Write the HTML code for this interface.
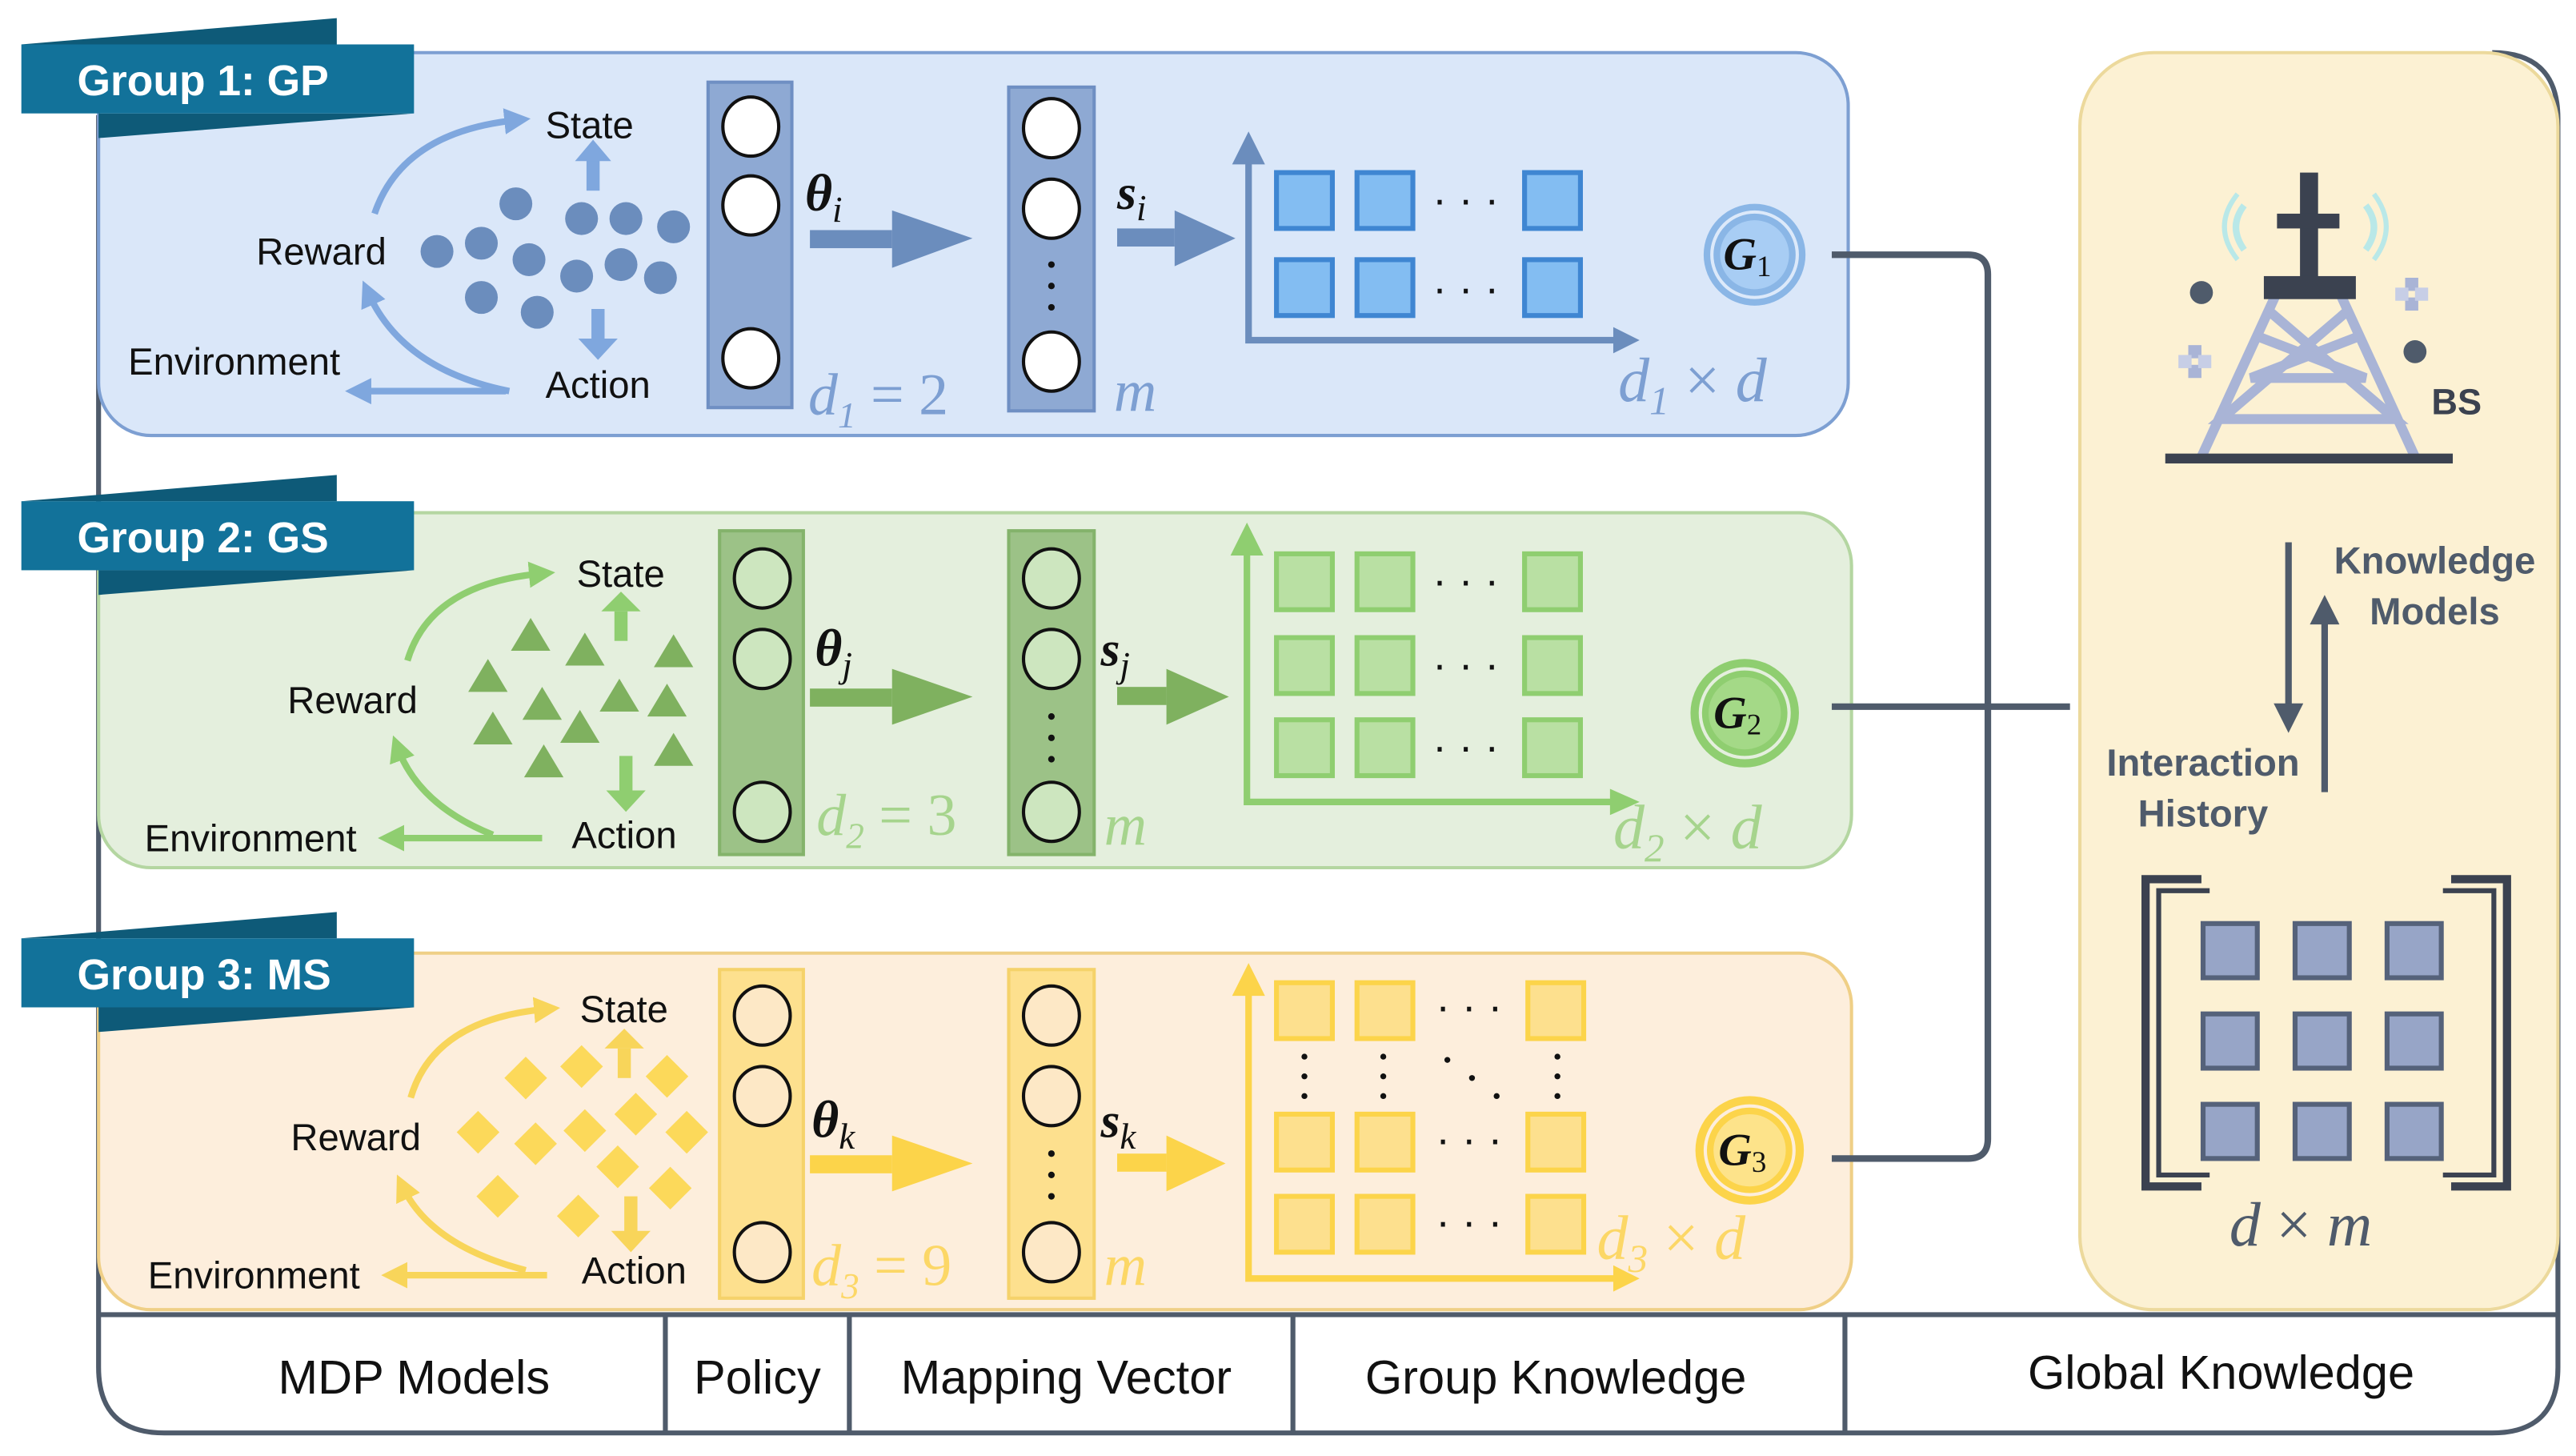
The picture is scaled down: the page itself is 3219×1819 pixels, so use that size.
<!DOCTYPE html>
<html><head><meta charset="utf-8"><style>
html,body{margin:0;padding:0;background:#fff;}
svg{display:block;}
text{font-family:"Liberation Sans",sans-serif;}
.m{font-family:"Liberation Serif",serif;font-style:italic;}
</style></head><body>
<svg width="3219" height="1819" viewBox="0 0 1568 886" xmlns="http://www.w3.org/2000/svg">
<defs>
<marker id="ab" viewBox="0 0 10 10" refX="5" refY="5" markerWidth="4" markerHeight="4" orient="auto"><path d="M0,0L10,5L0,10z" fill="#7fa7de"/></marker>
<marker id="ag" viewBox="0 0 10 10" refX="5" refY="5" markerWidth="4" markerHeight="4" orient="auto"><path d="M0,0L10,5L0,10z" fill="#8fce70"/></marker>
<marker id="ay" viewBox="0 0 10 10" refX="5" refY="5" markerWidth="4" markerHeight="4" orient="auto"><path d="M0,0L10,5L0,10z" fill="#f8d55a"/></marker>
</defs>
<path d="M60,70 L60,832 Q60,872 100,872 L1517,872 Q1557,872 1557,832 L1557,72 Q1557,32 1517,32" fill="none" stroke="#4f5b6b" stroke-width="3"/>
<line x1="60" y1="800" x2="1557" y2="800" stroke="#4f5b6b" stroke-width="3"/>
<g stroke="#4f5b6b" stroke-width="3"><line x1="405" y1="800" x2="405" y2="872"/><line x1="517" y1="800" x2="517" y2="872"/><line x1="787" y1="800" x2="787" y2="872"/><line x1="1123" y1="800" x2="1123" y2="872"/></g>
<g font-size="29" fill="#111" text-anchor="middle"><text x="252" y="848">MDP Models</text><text x="461" y="848">Policy</text><text x="649" y="848">Mapping Vector</text><text x="947" y="848">Group Knowledge</text><text x="1352" y="845">Global Knowledge</text></g>

<rect x="1266" y="32" width="291" height="765" rx="45" fill="#fcf1d3" stroke="#ecd99c" stroke-width="2"/>

<rect x="60" y="32" width="1065" height="233" rx="32" fill="#dae7f9" stroke="#7d9fd2" stroke-width="2"/>
<rect x="60" y="312" width="1067" height="216" rx="32" fill="#e4efdd" stroke="#b4d6a1" stroke-width="2"/>
<rect x="60" y="580" width="1067" height="217" rx="32" fill="#fdeedc" stroke="#efcf86" stroke-width="2"/>

<g>
<polygon points="13,27 205,11 205,27" fill="#0e5a78"/><polygon points="60,69 252,69 60,84" fill="#0e5a78"/><rect x="13" y="27" width="239" height="42" fill="#12729a"/>
<text x="47" y="58" font-size="26" font-weight="bold" fill="#fff">Group 1: GP</text>
</g>
<g transform="translate(0,278)">
<polygon points="13,27 205,11 205,27" fill="#0e5a78"/><polygon points="60,69 252,69 60,84" fill="#0e5a78"/><rect x="13" y="27" width="239" height="42" fill="#12729a"/>
<text x="47" y="58" font-size="26" font-weight="bold" fill="#fff">Group 2: GS</text>
</g>
<g transform="translate(0,544)">
<polygon points="13,27 205,11 205,27" fill="#0e5a78"/><polygon points="60,69 252,69 60,84" fill="#0e5a78"/><rect x="13" y="27" width="239" height="42" fill="#12729a"/>
<text x="47" y="58" font-size="26" font-weight="bold" fill="#fff">Group 3: MS</text>
</g>

<!-- Group 1 -->
<g font-size="23" fill="#111">
<text x="332" y="84">State</text><text x="156" y="161">Reward</text><text x="78" y="228">Environment</text><text x="332" y="242">Action</text>
</g>
<g fill="none" stroke="#7fa7de" stroke-width="4">
<path d="M228,130 Q245,80 315,73" marker-end="url(#ab)"/>
<path d="M310,238 Q245,225 224,178" marker-end="url(#ab)"/>
<path d="M308,238 L218,238" marker-end="url(#ab)"/>
</g>
<rect x="357" y="96" width="8" height="20" fill="#7fa7de"/><polygon points="350,98 361,85 372,98" fill="#7fa7de"/>
<rect x="360" y="188" width="8" height="20" fill="#7fa7de"/><polygon points="352,206 364,219 376,206" fill="#7fa7de"/>
<g fill="#6b8dbd">
<circle cx="314" cy="124" r="10"/><circle cx="354" cy="133" r="10"/><circle cx="381" cy="133" r="10"/><circle cx="410" cy="138" r="10"/>
<circle cx="266" cy="153" r="10"/><circle cx="293" cy="148" r="10"/><circle cx="322" cy="158" r="10"/><circle cx="351" cy="168" r="10"/><circle cx="378" cy="161" r="10"/><circle cx="402" cy="169" r="10"/>
<circle cx="293" cy="181" r="10"/><circle cx="327" cy="190" r="10"/>
</g>
<rect x="431" y="50" width="51" height="198" fill="#8ea9d3" stroke="#6f8fc3" stroke-width="2"/>
<g fill="#fff" stroke="#111" stroke-width="2"><ellipse cx="457" cy="77" rx="17" ry="18"/><ellipse cx="457" cy="125" rx="17" ry="18"/><ellipse cx="457" cy="218" rx="17" ry="18"/></g>
<rect x="614" y="53" width="52" height="197" fill="#8ea9d3" stroke="#6f8fc3" stroke-width="2"/>
<g fill="#fff" stroke="#111" stroke-width="2"><ellipse cx="640" cy="78" rx="17" ry="18"/><ellipse cx="640" cy="127" rx="17" ry="18"/><ellipse cx="640" cy="220" rx="17" ry="18"/></g>
<g fill="#111"><circle cx="640" cy="161" r="2"/><circle cx="640" cy="174" r="2"/><circle cx="640" cy="187" r="2"/></g>
<rect x="493" y="140" width="50" height="11" fill="#6b8dbd"/><polygon points="543,128 592,145 543,163" fill="#6b8dbd"/>
<rect x="680" y="139" width="35" height="11" fill="#6b8dbd"/><polygon points="715,128 752,145 715,162" fill="#6b8dbd"/>
<text x="490" y="128" font-size="32" font-weight="bold" class="m" fill="#111">θ<tspan font-size="22" dy="7" font-weight="normal">i</tspan></text>
<text x="680" y="127" font-size="30" font-weight="bold" class="m" fill="#111">s<tspan font-size="22" dy="7" font-weight="normal">i</tspan></text>
<text x="492" y="252" font-size="36" class="m" fill="#7d9fd2">d<tspan font-size="22" dy="8">1</tspan><tspan dy="-8" font-style="normal"> = 2</tspan></text>
<text x="678" y="250" font-size="36" class="m" fill="#7d9fd2">m</text>
<path d="M760,88 L760,207 L985,207" fill="none" stroke="#6b8dbd" stroke-width="4"/>
<polygon points="750,100 760,80 770,100" fill="#6b8dbd"/><polygon points="982,199 998,207 982,215" fill="#6b8dbd"/>
<g fill="#83bdf2" stroke="#3f86d2" stroke-width="3">
<rect x="777" y="105" width="34" height="34"/><rect x="826" y="105" width="34" height="34"/><rect x="928" y="105" width="34" height="34"/>
<rect x="777" y="158" width="34" height="34"/><rect x="826" y="158" width="34" height="34"/><rect x="928" y="158" width="34" height="34"/>
</g>
<text x="872" y="130" font-size="26" fill="#111">· · ·</text><text x="872" y="184" font-size="26" fill="#111">· · ·</text>
<text x="985" y="244" font-size="38" class="m" fill="#7d9fd2">d<tspan font-size="24" dy="8">1</tspan><tspan dy="-8" font-style="normal"> × </tspan>d</text>
<circle cx="1068" cy="155" r="31" fill="#8ab6e6"/><circle cx="1068" cy="155" r="26" fill="none" stroke="#dce9fa" stroke-width="2"/><circle cx="1068" cy="155" r="21" fill="#a8cdf4"/>
<text x="1049" y="164" font-size="28" font-weight="bold" class="m" fill="#111">G<tspan font-size="18" dy="4" font-weight="normal" font-style="normal">1</tspan></text>

<!-- Group 2 -->
<g font-size="23" fill="#111">
<text x="351" y="357">State</text><text x="175" y="434">Reward</text><text x="88" y="518">Environment</text><text x="348" y="516">Action</text>
</g>
<g fill="none" stroke="#8fce70" stroke-width="4">
<path d="M248,402 Q262,355 330,349" marker-end="url(#ag)"/>
<path d="M300,508 Q255,490 242,455" marker-end="url(#ag)"/>
<path d="M330,510 L238,510" marker-end="url(#ag)"/>
</g>
<rect x="374" y="372" width="8" height="18" fill="#8fce70"/><polygon points="366,372 378,360 390,372" fill="#8fce70"/>
<rect x="377" y="460" width="8" height="22" fill="#8fce70"/><polygon points="369,481 381,494 393,481" fill="#8fce70"/>
<g fill="#7fb15f">
<polygon points="323,376 311,396 335,396"/><polygon points="356,385 344,405 368,405"/><polygon points="410,386 398,406 422,406"/>
<polygon points="297,401 285,421 309,421"/><polygon points="330,418 318,438 342,438"/><polygon points="377,413 365,433 389,433"/><polygon points="406,416 394,436 418,436"/>
<polygon points="300,433 288,453 312,453"/><polygon points="353,432 341,452 365,452"/><polygon points="331,453 319,473 343,473"/><polygon points="410,446 398,466 422,466"/>
</g>
<rect x="438" y="323" width="51" height="197" fill="#9cc287" stroke="#84b36b" stroke-width="2"/>
<g fill="#cde6bf" stroke="#111" stroke-width="2"><ellipse cx="464" cy="352" rx="17" ry="18"/><ellipse cx="464" cy="401" rx="17" ry="18"/><ellipse cx="464" cy="494" rx="17" ry="18"/></g>
<rect x="614" y="323" width="52" height="197" fill="#9cc287" stroke="#84b36b" stroke-width="2"/>
<g fill="#cde6bf" stroke="#111" stroke-width="2"><ellipse cx="640" cy="352" rx="17" ry="18"/><ellipse cx="640" cy="401" rx="17" ry="18"/><ellipse cx="640" cy="494" rx="17" ry="18"/></g>
<g fill="#111"><circle cx="640" cy="436" r="2"/><circle cx="640" cy="449" r="2"/><circle cx="640" cy="462" r="2"/></g>
<rect x="493" y="419" width="50" height="11" fill="#7fb15f"/><polygon points="543,407 592,424 543,441" fill="#7fb15f"/>
<rect x="680" y="418" width="30" height="11" fill="#7fb15f"/><polygon points="710,407 748,424 710,441" fill="#7fb15f"/>
<text x="496" y="405" font-size="32" font-weight="bold" class="m" fill="#111">θ<tspan font-size="22" dy="7" font-weight="normal">j</tspan></text>
<text x="670" y="405" font-size="30" font-weight="bold" class="m" fill="#111">s<tspan font-size="22" dy="7" font-weight="normal">j</tspan></text>
<text x="497" y="508" font-size="36" class="m" fill="#a6d48d">d<tspan font-size="22" dy="8">2</tspan><tspan dy="-8" font-style="normal"> = 3</tspan></text>
<text x="672" y="514" font-size="36" class="m" fill="#a6d48d">m</text>
<path d="M759,333 L759,488 L985,488" fill="none" stroke="#8fce70" stroke-width="4"/>
<polygon points="749,338 759,318 769,338" fill="#8fce70"/><polygon points="980,480 998,488 980,496" fill="#8fce70"/>
<g fill="#b9e0a3" stroke="#8fce70" stroke-width="3">
<rect x="777" y="337" width="34" height="34"/><rect x="826" y="337" width="34" height="34"/><rect x="928" y="337" width="34" height="34"/>
<rect x="777" y="388" width="34" height="34"/><rect x="826" y="388" width="34" height="34"/><rect x="928" y="388" width="34" height="34"/>
<rect x="777" y="438" width="34" height="34"/><rect x="826" y="438" width="34" height="34"/><rect x="928" y="438" width="34" height="34"/>
</g>
<text x="872" y="362" font-size="26" fill="#111">· · ·</text><text x="872" y="413" font-size="26" fill="#111">· · ·</text><text x="872" y="463" font-size="26" fill="#111">· · ·</text>
<text x="982" y="516" font-size="38" class="m" fill="#a6d48d">d<tspan font-size="24" dy="8">2</tspan><tspan dy="-8" font-style="normal"> × </tspan>d</text>
<circle cx="1062" cy="434" r="33" fill="#8fce70"/><circle cx="1062" cy="434" r="27" fill="none" stroke="#e4efdd" stroke-width="2"/><circle cx="1062" cy="434" r="22" fill="#a4d987"/>
<text x="1043" y="443" font-size="28" font-weight="bold" class="m" fill="#111">G<tspan font-size="18" dy="4" font-weight="normal" font-style="normal">2</tspan></text>

<!-- Group 3 -->
<g font-size="23" fill="#111">
<text x="353" y="622">State</text><text x="177" y="700">Reward</text><text x="90" y="784">Environment</text><text x="354" y="781">Action</text>
</g>
<g fill="none" stroke="#f8d55a" stroke-width="4">
<path d="M250,668 Q264,620 333,614" marker-end="url(#ay)"/>
<path d="M320,773 Q262,758 245,722" marker-end="url(#ay)"/>
<path d="M333,776 L240,776" marker-end="url(#ay)"/>
</g>
<rect x="376" y="638" width="8" height="18" fill="#f8d55a"/><polygon points="368,638 380,626 392,638" fill="#f8d55a"/>
<rect x="380" y="728" width="8" height="22" fill="#f8d55a"/><polygon points="372,749 384,762 396,749" fill="#f8d55a"/>
<g fill="#fcd95a">
<polygon points="320,643 333,656 320,669 307,656"/><polygon points="354,636 367,649 354,662 341,649"/><polygon points="406,642 419,655 406,668 393,655"/>
<polygon points="291,676 304,689 291,702 278,689"/><polygon points="326,683 339,696 326,709 313,696"/><polygon points="356,675 369,688 356,701 343,688"/><polygon points="387,665 400,678 387,691 374,678"/><polygon points="418,676 431,689 418,702 405,689"/>
<polygon points="303,715 316,728 303,741 290,728"/><polygon points="376,697 389,710 376,723 363,710"/><polygon points="408,710 421,723 408,736 395,723"/><polygon points="352,727 365,740 352,753 339,740"/>
</g>
<rect x="438" y="590" width="51" height="200" fill="#fde08e" stroke="#f5d26a" stroke-width="2"/>
<g fill="#fde8c6" stroke="#111" stroke-width="2"><ellipse cx="464" cy="618" rx="17" ry="18"/><ellipse cx="464" cy="667" rx="17" ry="18"/><ellipse cx="464" cy="762" rx="17" ry="18"/></g>
<rect x="614" y="590" width="52" height="200" fill="#fde08e" stroke="#f5d26a" stroke-width="2"/>
<g fill="#fde8c6" stroke="#111" stroke-width="2"><ellipse cx="640" cy="618" rx="17" ry="18"/><ellipse cx="640" cy="667" rx="17" ry="18"/><ellipse cx="640" cy="762" rx="17" ry="18"/></g>
<g fill="#111"><circle cx="640" cy="702" r="2"/><circle cx="640" cy="715" r="2"/><circle cx="640" cy="728" r="2"/></g>
<rect x="493" y="703" width="50" height="11" fill="#fcd44a"/><polygon points="543,691 592,708 543,725" fill="#fcd44a"/>
<rect x="680" y="702" width="30" height="11" fill="#fcd44a"/><polygon points="710,691 746,708 710,725" fill="#fcd44a"/>
<text x="494" y="692" font-size="32" font-weight="bold" class="m" fill="#111">θ<tspan font-size="22" dy="7" font-weight="normal">k</tspan></text>
<text x="670" y="692" font-size="30" font-weight="bold" class="m" fill="#111">s<tspan font-size="22" dy="7" font-weight="normal">k</tspan></text>
<text x="494" y="782" font-size="36" class="m" fill="#fcd766">d<tspan font-size="22" dy="8">3</tspan><tspan dy="-8" font-style="normal"> = 9</tspan></text>
<text x="672" y="782" font-size="36" class="m" fill="#fcd766">m</text>
<path d="M760,600 L760,778 L985,778" fill="none" stroke="#fcd44a" stroke-width="4"/>
<polygon points="750,606 760,586 770,606" fill="#fcd44a"/><polygon points="982,770 998,778 982,786" fill="#fcd44a"/>
<g fill="#fde08e" stroke="#fcd44a" stroke-width="3">
<rect x="777" y="598" width="34" height="34"/><rect x="826" y="598" width="34" height="34"/><rect x="930" y="598" width="34" height="34"/>
<rect x="777" y="678" width="34" height="34"/><rect x="826" y="678" width="34" height="34"/><rect x="930" y="678" width="34" height="34"/>
<rect x="777" y="728" width="34" height="34"/><rect x="826" y="728" width="34" height="34"/><rect x="930" y="728" width="34" height="34"/>
</g>
<text x="874" y="621" font-size="26" fill="#111">· · ·</text><text x="874" y="702" font-size="26" fill="#111">· · ·</text><text x="874" y="752" font-size="26" fill="#111">· · ·</text>
<g fill="#111"><circle cx="794" cy="643" r="1.8"/><circle cx="794" cy="655" r="1.8"/><circle cx="794" cy="667" r="1.8"/><circle cx="842" cy="643" r="1.8"/><circle cx="842" cy="655" r="1.8"/><circle cx="842" cy="667" r="1.8"/><circle cx="948" cy="643" r="1.8"/><circle cx="948" cy="655" r="1.8"/><circle cx="948" cy="667" r="1.8"/><circle cx="881" cy="645" r="1.8"/><circle cx="896" cy="656" r="1.8"/><circle cx="911" cy="667" r="1.8"/></g>
<text x="972" y="766" font-size="38" class="m" fill="#fcd766">d<tspan font-size="24" dy="8">3</tspan><tspan dy="-8" font-style="normal"> × </tspan>d</text>
<circle cx="1065" cy="700" r="33" fill="#fcd44a"/><circle cx="1065" cy="700" r="27" fill="none" stroke="#fdeedc" stroke-width="2"/><circle cx="1065" cy="700" r="22" fill="#fde38a"/>
<text x="1046" y="709" font-size="28" font-weight="bold" class="m" fill="#111">G<tspan font-size="18" dy="4" font-weight="normal" font-style="normal">3</tspan></text>

<g fill="none" stroke="#4f5b6b" stroke-width="4">
<path d="M1115,155 L1198,155 Q1210,155 1210,167 L1210,693 Q1210,705 1198,705 L1115,705"/>
<path d="M1115,430 L1260,430"/>
</g>

<g fill="none" stroke="#b9e8e8" stroke-width="4">
<path d="M1366,125 Q1356,138 1366,152"/><path d="M1362,118 Q1346,138 1362,158" stroke-width="3"/>
<path d="M1440,125 Q1450,138 1440,152"/><path d="M1445,118 Q1460,138 1445,158" stroke-width="3"/>
</g>
<g stroke="#a9b4d6" stroke-width="6" fill="none">
<path d="M1385,180 L1340,278"/><path d="M1425,180 L1470,278"/>
<path d="M1382,190 L1458,255 L1352,255 L1428,190"/><path d="M1375,205 L1440,230 L1370,230 L1435,205"/>
</g>
<rect x="1400" y="105" width="11" height="65" fill="#3b4250"/><rect x="1386" y="130" width="38" height="9" fill="#3b4250"/>
<rect x="1378" y="168" width="56" height="14" fill="#3b4250"/>
<rect x="1318" y="276" width="175" height="6" fill="#3b4250"/>
<circle cx="1340" cy="178" r="7" fill="#4f5b6b"/><circle cx="1470" cy="214" r="7" fill="#4f5b6b"/>
<g fill="#a9b4d6"><rect x="1464" y="169" width="8" height="8"/><rect x="1464" y="181" width="8" height="8"/><rect x="1458" y="175" width="8" height="8" fill="#c7cee6"/><rect x="1470" y="175" width="8" height="8" fill="#c7cee6"/>
<rect x="1332" y="210" width="8" height="8"/><rect x="1332" y="222" width="8" height="8"/><rect x="1326" y="216" width="8" height="8" fill="#c7cee6"/><rect x="1338" y="216" width="8" height="8" fill="#c7cee6"/></g>
<text x="1480" y="252" font-size="22" font-weight="bold" fill="#3b4250">BS</text>

<g stroke="#4f5b6b" stroke-width="4" fill="none">
<line x1="1393" y1="330" x2="1393" y2="432"/><line x1="1415" y1="482" x2="1415" y2="376"/>
</g>
<polygon points="1384,428 1393,446 1402,428" fill="#4f5b6b"/><polygon points="1406,380 1415,362 1424,380" fill="#4f5b6b"/>
<g font-size="23" font-weight="bold" fill="#4f5b6b" text-anchor="middle">
<text x="1482" y="349">Knowledge</text><text x="1482" y="380">Models</text>
<text x="1341" y="472">Interaction</text><text x="1341" y="503">History</text>
</g>

<g fill="none" stroke="#3b4250" stroke-width="5">
<path d="M1340,535 L1306,535 L1306,722 L1340,722"/><path d="M1345,542 L1314,542 L1314,715 L1345,715" stroke-width="3"/>
<path d="M1492,535 L1526,535 L1526,722 L1492,722"/><path d="M1487,542 L1518,542 L1518,715 L1487,715" stroke-width="3"/>
</g>
<g fill="#97a5c7" stroke="#55627a" stroke-width="3">
<rect x="1341" y="562" width="33" height="33"/><rect x="1397" y="562" width="33" height="33"/><rect x="1453" y="562" width="33" height="33"/>
<rect x="1341" y="617" width="33" height="33"/><rect x="1397" y="617" width="33" height="33"/><rect x="1453" y="617" width="33" height="33"/>
<rect x="1341" y="672" width="33" height="33"/><rect x="1397" y="672" width="33" height="33"/><rect x="1453" y="672" width="33" height="33"/>
</g>
<text x="1357" y="758" font-size="38" class="m" fill="#4f5b6b">d<tspan font-style="normal"> × </tspan>m</text>
</svg>
</body></html>
